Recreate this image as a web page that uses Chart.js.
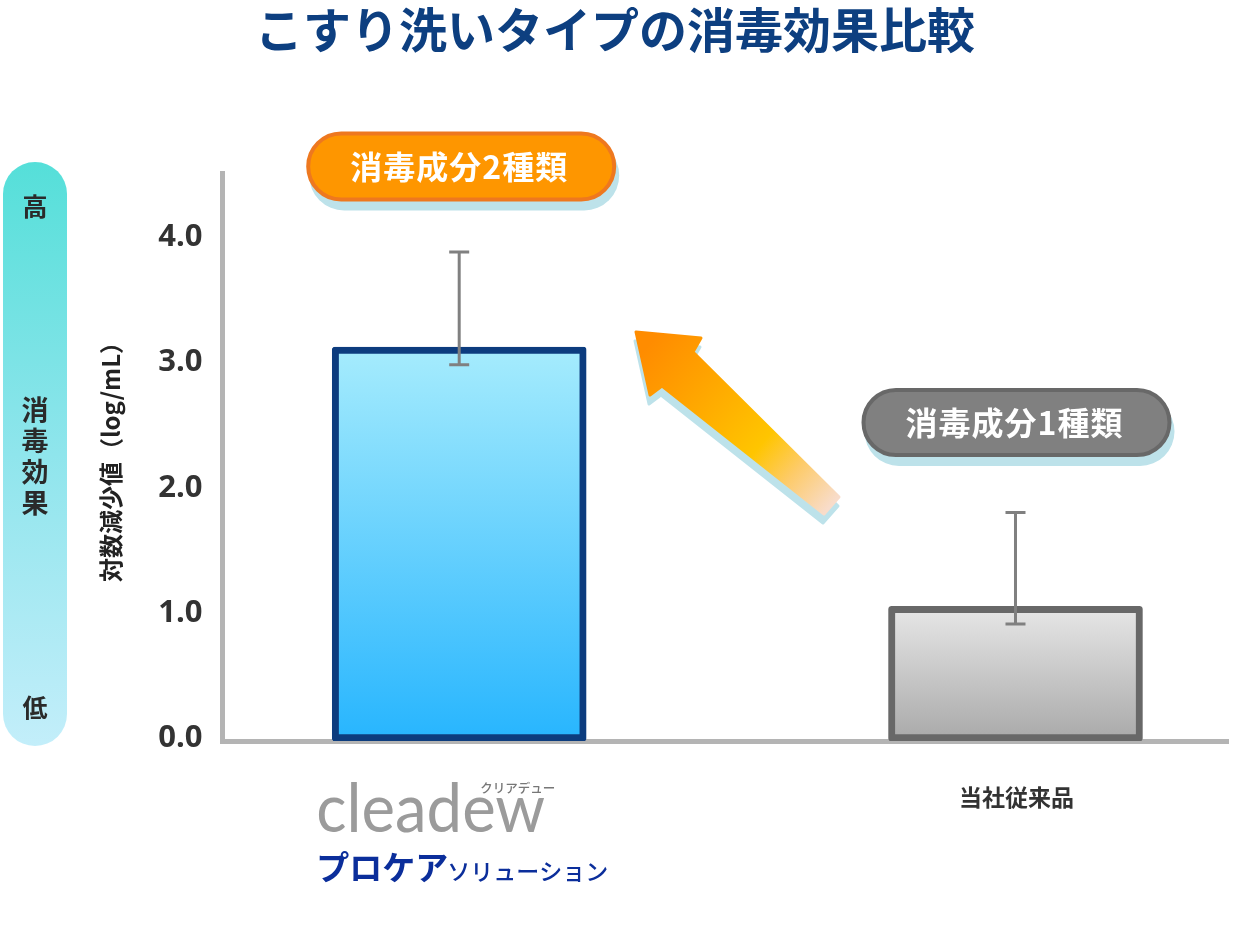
<!DOCTYPE html>
<html><head><meta charset="utf-8">
<script src="https://cdn.jsdelivr.net/npm/chart.js@4.4.0/dist/chart.umd.min.js"></script>
<style>html,body{margin:0;padding:0;background:#fff;overflow:hidden}canvas{display:block}</style>
</head><body>
<canvas id="c" width="1234" height="932"></canvas>
<script>
// ---- data ----
const chartTitle = 'こすり洗いタイプの消毒効果比較';
const categories = ['cleadew', '当社従来品'];
const values = [3.10, 1.03];
const errorHigh = [3.86, 1.78];
const errorLow = [2.96, 0.89];
const badgeLabels = ['消毒成分2種類', '消毒成分1種類'];
const yTicks = [0, 1, 2, 3, 4];
const yTitle = '対数減少値（log/mL）';
const effectLabels = ['高', '消毒効果', '低'];
const brandKana = 'クリアデュー';
const brandSub = ['プロケア', 'ソリューション'];

// ---- view ----
const Y_MIN = -0.044, Y_MAX = 4.49;
const X_MIN = -0.4255, X_MAX = 1.382;
const JP = '"Noto Sans CJK JP", "Noto Sans", sans-serif';

function rr(ctx, x, y, w, h, r) {
  ctx.beginPath();
  ctx.moveTo(x + r, y);
  ctx.lineTo(x + w - r, y);
  ctx.arc(x + w - r, y + r, r, -Math.PI / 2, 0);
  ctx.lineTo(x + w, y + h - r);
  ctx.arc(x + w - r, y + h - r, r, 0, Math.PI / 2);
  ctx.lineTo(x + r, y + h);
  ctx.arc(x + r, y + h - r, r, Math.PI / 2, Math.PI);
  ctx.lineTo(x, y + r);
  ctx.arc(x + r, y + r, r, Math.PI, Math.PI * 1.5);
  ctx.closePath();
}

function badge(ctx, cx, cy, w, h, fill, stroke, text) {
  ctx.save();
  ctx.fillStyle = '#bde2ea';
  rr(ctx, cx - w / 2 + 3, cy - h / 2 + 9, w, h, h / 2);
  ctx.fill();
  rr(ctx, cx - w / 2 + 2, cy - h / 2 + 2, w - 4, h - 4, (h - 4) / 2);
  ctx.fillStyle = fill;
  ctx.fill();
  ctx.lineWidth = 4;
  ctx.strokeStyle = stroke;
  ctx.stroke();
  ctx.fillStyle = '#fff';
  ctx.font = 'bold 32px ' + JP;
  ctx.textAlign = 'center';
  ctx.textBaseline = 'middle';
  try { ctx.letterSpacing = '1px'; } catch (e) {}
  ctx.fillText(text, cx - 2, cy);
  ctx.restore();
}

const errorBars = {
  id: 'errorBars',
  afterDatasetsDraw(chart) {
    const { ctx, scales: { x, y } } = chart;
    ctx.save();
    ctx.strokeStyle = '#808080';
    ctx.lineWidth = 3;
    categories.forEach((c, i) => {
      const px = x.getPixelForValue(i);
      const t = y.getPixelForValue(errorHigh[i]);
      const b = y.getPixelForValue(errorLow[i]);
      ctx.beginPath();
      ctx.moveTo(px, t); ctx.lineTo(px, b);
      ctx.moveTo(px - 10, t); ctx.lineTo(px + 10, t);
      ctx.moveTo(px - 10, b); ctx.lineTo(px + 10, b);
      ctx.stroke();
    });
    ctx.restore();
  }
};

const decorations = {
  id: 'decorations',
  afterDraw(chart) {
    const { ctx, scales: { x, y } } = chart;
    ctx.save();
    // title
    ctx.fillStyle = '#0d3f80';
    ctx.font = 'bold 48px ' + JP;
    ctx.textAlign = 'center';
    ctx.textBaseline = 'middle';
    ctx.fillText(chartTitle, 615, 30);

    // effect gradient pill
    const g = ctx.createLinearGradient(0, 162, 0, 746);
    g.addColorStop(0, '#55dfd9');
    g.addColorStop(0.5, '#8fe5ec');
    g.addColorStop(1, '#c3eefa');
    ctx.fillStyle = g;
    rr(ctx, 3, 162, 64, 584, 32);
    ctx.fill();
    ctx.fillStyle = '#2a2a2a';
    ctx.font = 'bold 25px ' + JP;
    ctx.fillText(effectLabels[0], 35, 206);
    ctx.fillText(effectLabels[2], 35, 707);
    ctx.font = 'bold 27px ' + JP;
    [...effectLabels[1]].forEach((ch, k) => ctx.fillText(ch, 35, 410 + k * 31));

    // y axis title
    ctx.save();
    ctx.translate(111, 456);
    ctx.rotate(-Math.PI / 2);
    ctx.fillStyle = '#222';
    ctx.font = 'bold 24px ' + JP;
    ctx.fillText(yTitle, 0, 0);
    ctx.restore();

    // badges
    badge(ctx, x.getPixelForValue(0) + 2, 166.5, 310, 70, '#fe9600', '#ee781f', badgeLabels[0]);
    badge(ctx, x.getPixelForValue(1) + 1, 422.5, 310, 69, '#808080', '#686868', badgeLabels[1]);

    // arrow
    const pts = [[636, 332], [701, 338], [693, 352], [839, 497], [824, 514], [662, 386], [650, 395]];
    const poly = (dx, dy) => {
      ctx.beginPath();
      pts.forEach((p, k) => k ? ctx.lineTo(p[0] + dx, p[1] + dy) : ctx.moveTo(p[0] + dx, p[1] + dy));
      ctx.closePath();
    };
    ctx.lineJoin = 'round';
    ctx.lineWidth = 3;
    poly(-1, 9);
    ctx.fillStyle = '#bde2ea'; ctx.strokeStyle = '#bde2ea';
    ctx.fill(); ctx.stroke();
    const ag = ctx.createLinearGradient(831, 505, 648, 345);
    ag.addColorStop(0, '#f8dcca');
    ag.addColorStop(0.2, '#fdcb6a');
    ag.addColorStop(0.38, '#ffc500');
    ag.addColorStop(0.75, '#ffa200');
    ag.addColorStop(1, '#ff8c00');
    poly(0, 0);
    ctx.fillStyle = ag; ctx.strokeStyle = ag;
    ctx.fill(); ctx.stroke();

    // category labels
    const c0 = x.getPixelForValue(0);
    ctx.textAlign = 'left';
    ctx.textBaseline = 'alphabetic';
    ctx.fillStyle = '#9b9b9b';
    ctx.font = '400 67px Lato, "Open Sans", sans-serif';
    const mw = ctx.measureText(categories[0]).width;
    ctx.save();
    ctx.translate(c0 - 143, 832);
    ctx.scale(229 / mw, 1);
    ctx.fillText(categories[0], 0, 0);
    ctx.restore();
    ctx.fillStyle = '#777';
    ctx.font = '500 12.5px ' + JP;
    ctx.textBaseline = 'middle';
    ctx.fillText(brandKana, c0 + 21, 788);
    ctx.fillStyle = '#0b2e9b';
    ctx.font = 'bold 33px ' + JP;
    ctx.fillText(brandSub[0], c0 - 143, 867);
    ctx.font = '500 23px ' + JP;
    ctx.fillText(brandSub[1], c0 - 12, 871);

    ctx.textAlign = 'center';
    ctx.fillStyle = '#333';
    ctx.font = 'bold 23px ' + JP;
    ctx.fillText(categories[1], x.getPixelForValue(1) + 1, 797);
    ctx.restore();
  }
};

const barFills = [['#a6ecfd', '#27b5fe'], ['#e7e7e7', '#a9a9a9']];
const barBorders = ['#0c3c7e', '#686868'];

new Chart(document.getElementById('c'), {
  type: 'bar',
  data: {
    datasets: [{
      data: categories.map((c, i) => ({ x: i, y: values[i] })),
      base: Y_MIN,
      barThickness: 254,
      borderWidth: 7,
      borderSkipped: false,
      borderRadius: 3,
      borderColor: barBorders,
      backgroundColor: (context) => {
        const chart = context.chart;
        const i = context.dataIndex;
        if (!chart.chartArea || i === undefined) return barFills[0][1];
        const ys = chart.scales.y;
        const gr = chart.ctx.createLinearGradient(0, ys.getPixelForValue(values[i]), 0, ys.getPixelForValue(Y_MIN));
        gr.addColorStop(0, barFills[i][0]);
        gr.addColorStop(1, barFills[i][1]);
        return gr;
      }
    }]
  },
  options: {
    responsive: false,
    animation: false,
    devicePixelRatio: 1,
    layout: { padding: { top: 173, bottom: 191, left: 0, right: 6 } },
    plugins: { legend: { display: false }, title: { display: false }, tooltip: { enabled: false } },
    scales: {
      x: {
        type: 'linear', min: X_MIN, max: X_MAX, offset: false,
        afterFit: s => { s.height = 0; },
        ticks: { display: false },
        grid: { display: true, offset: false, drawOnChartArea: false, drawTicks: false, color: 'rgba(0,0,0,0)' },
        border: { display: true, color: '#b4b4b4', width: 5 }
      },
      y: {
        type: 'linear', min: Y_MIN, max: Y_MAX,
        afterBuildTicks: s => { s.ticks = yTicks.map(v => ({ value: v })); },
        afterFit: s => { s.width = 222.5; },
        grid: { display: true, drawOnChartArea: false, drawTicks: false, color: 'rgba(0,0,0,0)' },
        border: { display: true, color: '#b4b4b4', width: 5 },
        ticks: {
          padding: 20, color: '#333', labelOffset: 3,
          font: { family: '"Open Sans", sans-serif', size: 31, weight: 'bold' },
          callback: v => Number(v).toFixed(1)
        }
      }
    }
  },
  plugins: [errorBars, decorations]
});
</script>
</body></html>
